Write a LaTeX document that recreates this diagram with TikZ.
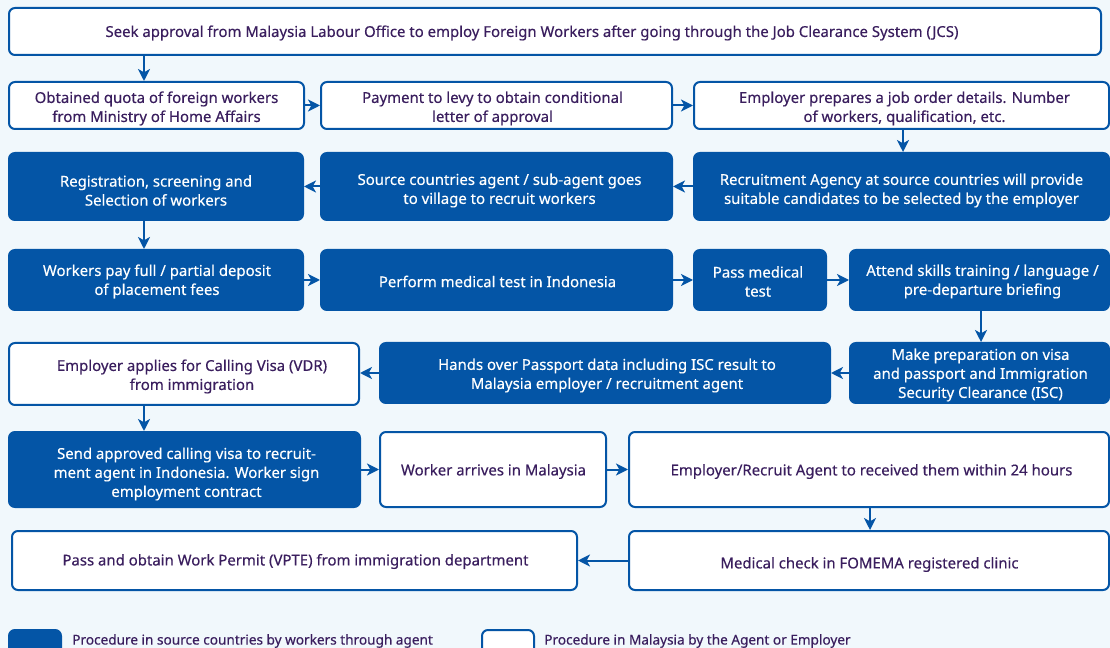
\documentclass[tikz,border=0pt]{standalone}
\usepackage{fontspec}
\setmainfont{Noto Sans}[FakeBold=0.35]
\usetikzlibrary{arrows.meta}
\definecolor{myblue}{HTML}{0455A6}
\definecolor{mytext}{HTML}{3A1E5E}
\definecolor{bg}{HTML}{F1F8FC}
\tikzset{
  base/.style={rounded corners=4.5pt, line width=1.5pt, draw=myblue, inner sep=0pt},
  wbox/.style={base, fill=white},
  bbox/.style={base, fill=myblue},
  txt/.style={align=center, inner sep=0pt, font=\fontsize{11.2}{14.25}\selectfont},
  wboxtext/.style={txt, text=mytext},
  bboxtext/.style={txt, text=white},
  arr/.style={draw=myblue, line width=1.5pt, -{Stealth[length=9pt,width=9pt,inset=2.5pt]}},
}
\newcommand\bx[9]{\node[#1, minimum width={(#4-#2)*0.75pt}, minimum height={(#5-#3)*0.75pt}] (#6) at ({(#2+#4)/2},{(#3+#5)/2}) {};
\node[#1text] (#6t) at ({(#2+#4)/2+#7},{(#3+#5)/2+#8}) {#9};}
\begin{document}
\begin{tikzpicture}[x=0.75pt,y=-0.75pt]
\fill[bg] (0,0) rectangle (1110,648);
\useasboundingbox (0,0) rectangle (1110,648);
\bx{wbox}{9}{8}{1101}{55}{top}{-23}{1.5}{Seek approval from Malaysia Labour Office to employ Foreign Workers after going through the Job Clearance System (JCS)}
\bx{wbox}{9}{82}{304}{129}{A}{0}{3}{Obtained quota of foreign workers\\from Ministry of Home Affairs}
\bx{wbox}{321}{82}{672}{129}{B}{-4}{3}{Payment to levy to obtain conditional\\letter of approval}
\bx{wbox}{694}{82}{1109}{129}{C}{3}{3}{Employer prepares a job order details. Number\\of workers, qualification, etc.}
\bx{bbox}{9}{153}{303}{220}{D}{0}{4}{Registration, screening and\\Selection of workers}
\bx{bbox}{321}{153}{672}{220}{E}{3}{4}{Source countries agent / sub-agent goes\\to village to recruit workers}
\bx{bbox}{694}{153}{1109}{220}{F}{0}{4}{Recruitment Agency at source countries will provide\\suitable candidates to be selected by the employer}
\bx{bbox}{9}{250}{303}{310}{G}{1}{1.5}{Workers pay full / partial deposit\\of placement fees}
\bx{bbox}{321}{250}{672}{310}{H}{1}{1.5}{Perform medical test in Indonesia}
\bx{bbox}{694}{250}{826}{310}{I}{-2}{1.5}{Pass medical\\test}
\bx{bbox}{850}{250}{1109}{310}{J}{3}{1.5}{Attend skills training / language /\\pre-departure briefing}
\bx{wbox}{9}{343}{359}{405}{K}{8}{2.5}{Employer applies for Calling Visa (VDR)\\from immigration}
\bx{bbox}{380}{343}{830}{403}{L}{2}{2.5}{Hands over Passport data including ISC result to\\Malaysia employer / recruitment agent}
\bx{bbox}{850}{343}{1109}{403}{M}{1}{2}{Make preparation on visa\\and passport and Immigration\\Security Clearance (ISC)}
\bx{bbox}{9}{432}{360}{507}{N}{2}{4.5}{Send approved calling visa to recruit-\\ment agent in Indonesia. Worker sign\\employment contract}
\bx{wbox}{380}{432}{606}{507}{O}{0.5}{2}{Worker arrives in Malaysia}
\bx{wbox}{629}{432}{1109}{507}{P}{2.5}{2}{Employer/Recruit Agent to received them within 24 hours}
\bx{wbox}{12}{531}{577}{590}{Q}{1}{1}{Pass and obtain Work Permit (VPTE) from immigration department}
\bx{wbox}{629}{531}{1109}{590}{R}{0.5}{4}{Medical check in FOMEMA registered clinic}
\node[bbox, minimum width={52*0.75pt}, minimum height={30*0.75pt}] (LA) at (35,645) {};
\node[wbox, minimum width={52*0.75pt}, minimum height={30*0.75pt}] (LB) at (508,645) {};
\node[anchor=west, text=mytext, font=\fontsize{10.2}{12}\selectfont, inner sep=0pt] (LAt) at (72,641) {Procedure in source countries by workers through agent};
\node[anchor=west, text=mytext, font=\fontsize{10.2}{12}\selectfont, inner sep=0pt] (LBt) at (544,641) {Procedure in Malaysia by the Agent or Employer};
% arrows
\draw[arr] (top.south -| 144,0) -- (A.north -| 144,0);
\draw[arr] (A) -- (B);
\draw[arr] (B) -- (C);
\draw[arr] (C.south -| 903,0) -- (F.north -| 903,0);
\draw[arr] (F) -- (E);
\draw[arr] (E) -- (D);
\draw[arr] (D.south -| 144,0) -- (G.north -| 144,0);
\draw[arr] (G) -- (H);
\draw[arr] (H) -- (I);
\draw[arr] (I) -- (J);
\draw[arr] (J.south -| 981,0) -- (M.north -| 981,0);
\draw[arr] (M) -- (L);
\draw[arr] (L.west) -- (K.east |- L.west);
\draw[arr] (K.south -| 144,0) -- (N.north -| 144,0);
\draw[arr] (N) -- (O);
\draw[arr] (O) -- (P);
\draw[arr] (P.south -| 870,0) -- (R.north -| 870,0);
\draw[arr] (R.west) -- (Q.east |- R.west);
\end{tikzpicture}
\end{document}
